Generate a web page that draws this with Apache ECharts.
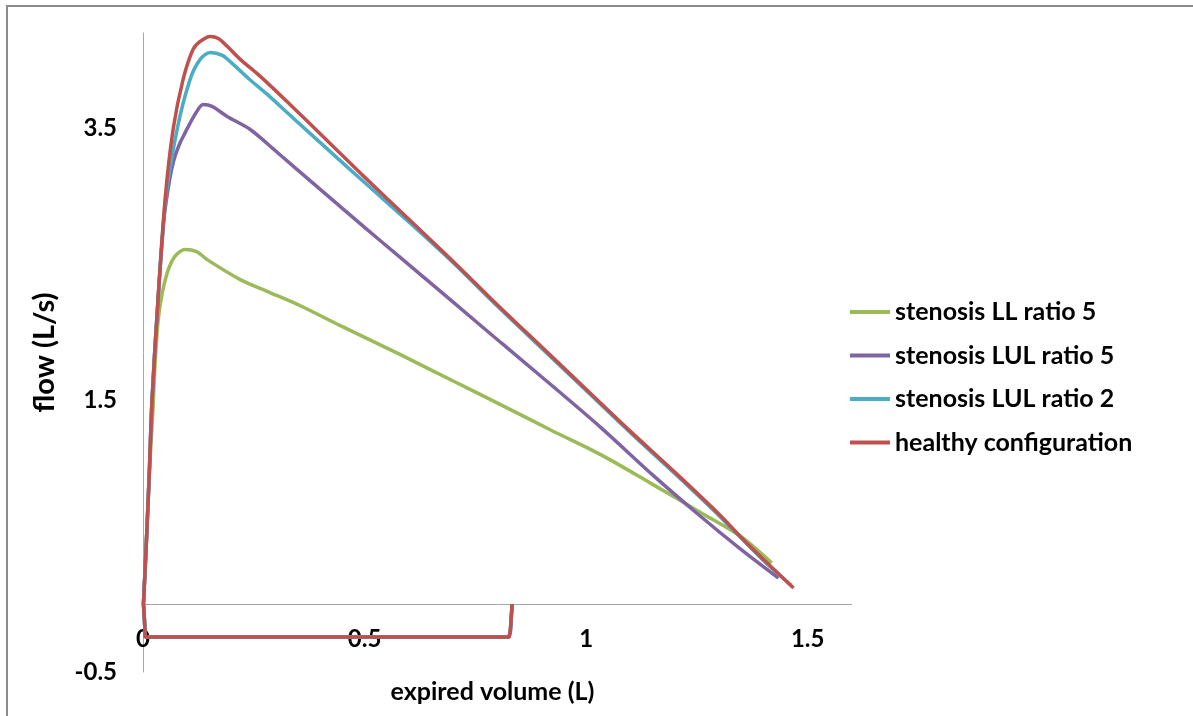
<!DOCTYPE html>
<html>
<head>
<meta charset="utf-8">
<script src="https://cdn.jsdelivr.net/npm/echarts@6/dist/echarts.min.js"></script>
<style>
html,body{margin:0;padding:0;background:#fff;}
#c{width:1193px;height:716px;}
</style>
</head>
<body>
<div id="c"></div>
<script>
// ---- data: [expired volume (L), flow (L/s)] ----
var seriesNames = ['stenosis LL ratio 5', 'stenosis LUL ratio 5', 'stenosis LUL ratio 2', 'healthy configuration'];
var seriesColors = ['#9BBB59', '#8064A2', '#4BACC6', '#C0504D'];

// inspiratory part (shared by all configurations)
var inspiration = [[0.833, 0.0], [0.829, -0.2], [0.826, -0.243], [0.005, -0.243], [0.003, -0.1], [0.001, 0.0]];

var llRatio5 = [[0.001, 0.0], [0.0068, 0.398], [0.0136, 0.913], [0.022, 1.4], [0.027, 1.75], [0.034, 2.08], [0.043, 2.28],
  [0.054, 2.43], [0.065, 2.52], [0.077, 2.575], [0.095, 2.607], [0.122, 2.59], [0.1448, 2.533], [0.2195, 2.386], [0.28, 2.3],
  [0.355, 2.194], [0.45, 2.04], [0.581, 1.834], [0.7, 1.64], [0.808, 1.465], [0.92, 1.28], [1.034, 1.097], [1.15, 0.88],
  [1.26, 0.67], [1.351, 0.493], [1.419, 0.302]];

var lulRatio5 = [[0.001, 0.0], [0.0068, 0.398], [0.0136, 0.913], [0.0204, 1.502], [0.0339, 2.239], [0.048, 2.85], [0.06, 3.12],
  [0.07, 3.27], [0.082, 3.38], [0.094, 3.46], [0.106, 3.535], [0.12, 3.615], [0.1357, 3.674], [0.156, 3.66], [0.19, 3.586],
  [0.242, 3.49], [0.3, 3.33], [0.4, 3.05], [0.5, 2.77], [0.581, 2.548], [0.7, 2.22], [0.808, 1.922], [0.9, 1.67],
  [1.034, 1.296], [1.15, 0.95], [1.26, 0.64], [1.35, 0.4], [1.434, 0.191]];

var lulRatio2 = [[0.001, 0.0], [0.0068, 0.398], [0.0136, 0.913], [0.0204, 1.502], [0.0339, 2.239], [0.051, 2.975], [0.0769, 3.49],
  [0.1063, 3.859], [0.129, 4.006], [0.1516, 4.057], [0.179, 4.035], [0.2, 3.98], [0.24, 3.86], [0.28, 3.75], [0.33, 3.6],
  [0.42, 3.335], [0.5, 3.1], [0.6, 2.81], [0.7, 2.51], [0.8, 2.19], [0.9, 1.88], [1.0, 1.57], [1.1, 1.26], [1.2, 0.96],
  [1.3, 0.65], [1.4, 0.32], [1.462, 0.14]];

var healthy = [[0.001, 0.0], [0.0068, 0.398], [0.0136, 0.913], [0.0204, 1.502], [0.0339, 2.239], [0.0498, 2.975], [0.0679, 3.49],
  [0.0905, 3.859], [0.1131, 4.08], [0.129, 4.138], [0.1516, 4.175], [0.17, 4.16], [0.19, 4.102], [0.2195, 4.006], [0.2647, 3.881],
  [0.33, 3.68], [0.42, 3.395], [0.5, 3.14], [0.6, 2.83], [0.7, 2.52], [0.8, 2.2], [0.9, 1.89], [1.0, 1.58], [1.1, 1.27],
  [1.2, 0.97], [1.3, 0.66], [1.35, 0.49], [1.4, 0.33], [1.468, 0.118]];

var xTicks = [0, 0.5, 1, 1.5];
var yTicks = [-0.5, 1.5, 3.5];

var curves = [llRatio5, lulRatio5, lulRatio2, healthy];

var font = 'Lato, Carlito, Calibri, sans-serif';
var chart = echarts.init(document.getElementById('c'), null, {renderer: 'canvas'});

var series = [];
curves.forEach(function (c, i) {
  series.push({
    name: seriesNames[i], type: 'line', data: inspiration,
    showSymbol: false, symbol: 'none', smooth: false,
    lineStyle: {color: seriesColors[i], width: 3.5}, itemStyle: {color: seriesColors[i]},
    emphasis: {disabled: true}, animation: false, z: 2 + 2 * i
  });
  series.push({
    name: seriesNames[i], type: 'line', data: c,
    showSymbol: false, symbol: 'none', smooth: 0.3,
    lineStyle: {color: seriesColors[i], width: 3.5}, itemStyle: {color: seriesColors[i]},
    emphasis: {disabled: true}, animation: false, z: 3 + 2 * i,
    markLine: i === 0 ? {
      silent: true, symbol: 'none', animation: false, z: 1,
      label: {show: false},
      lineStyle: {color: '#a6a6a6', width: 1, type: 'solid'},
      emphasis: {disabled: true},
      data: [{yAxis: 0}]
    } : undefined
  });
});

chart.setOption({
  animation: false,
  backgroundColor: '#ffffff',
  grid: {left: 143, right: 341, top: 33, bottom: 44, containLabel: false, outerBoundsMode: 'none'},
  xAxis: {
    type: 'value', min: 0, max: 1.6, interval: 0.5, offset: -45,
    axisLine: {show: false, onZero: false},
    axisTick: {show: false},
    splitLine: {show: false},
    axisLabel: {
      color: '#000', fontFamily: font, fontWeight: 'bold', fontSize: 24, margin: 0, showMaxLabel: false,
      formatter: function (v) { return xTicks.indexOf(v) >= 0 ? String(v) : ''; }
    },
    name: 'expired volume (L)', nameLocation: 'middle', nameGap: 52,
    nameTextStyle: {color: '#000', fontFamily: font, fontWeight: 'bold', fontSize: 25, padding: [0, 10, 0, 0]}
  },
  yAxis: {
    type: 'value', min: -0.5, max: 4.2, interval: 2,
    axisLine: {show: true, onZero: false, lineStyle: {color: '#a6a6a6', width: 1}},
    axisTick: {show: false},
    splitLine: {show: false},
    axisLabel: {
      color: '#000', fontFamily: font, fontWeight: 'bold', fontSize: 24, margin: 26, showMaxLabel: false,
      formatter: function (v) { return yTicks.indexOf(Math.round(v * 10) / 10) >= 0 ? String(v) : ''; }
    },
    name: 'flow (L/s)', nameLocation: 'middle', nameGap: 84, nameRotate: 90,
    nameTextStyle: {color: '#000', fontFamily: font, fontWeight: 'bold', fontSize: 29}
  },
  legend: {
    orient: 'vertical', left: 845, top: 292,
    itemWidth: 40, itemHeight: 4, itemGap: 13.5,
    icon: 'rect',
    data: seriesNames,
    textStyle: {color: '#000', fontFamily: font, fontWeight: 'bold', fontSize: 25, lineHeight: 30}
  },
  graphic: [{
    type: 'rect', z: 100, silent: true,
    shape: {x: 7, y: 6, width: 1300, height: 800},
    style: {fill: 'none', stroke: '#8c8c8c', lineWidth: 2}
  }],
  series: series
});
</script>
</body>
</html>
